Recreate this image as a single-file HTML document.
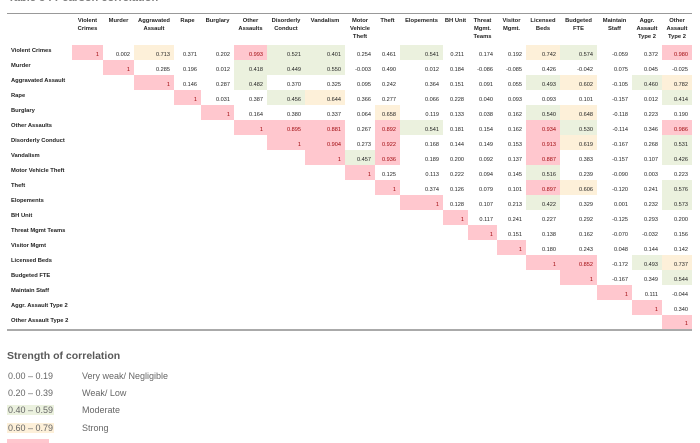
<!DOCTYPE html>
<html><head><meta charset="utf-8"><style>
body{margin:0;width:700px;height:441px;overflow:hidden;background:#fff;font-family:"Liberation Sans",sans-serif;position:relative}
.title{position:absolute;left:8px;top:-8px;font-size:11px;color:#7f7f7f;font-weight:bold}
table{position:absolute;left:7px;top:13px;border-collapse:collapse;table-layout:fixed;border-top:1.5px solid #999;border-bottom:2px solid #aaa}
td{box-sizing:border-box;padding:0;height:15px;line-height:6px;font-size:5.6px;color:#222;text-align:right;vertical-align:bottom;padding-right:4px;padding-bottom:2px;white-space:nowrap;overflow:hidden}
tr.h td{height:31px;vertical-align:top;text-align:center;font-weight:bold;padding:3px 0 0 0;line-height:8px;white-space:normal;font-size:5.8px}
td.l{text-align:left;vertical-align:top;font-weight:bold;padding:3px 0 0 4px;font-size:5.8px}
.p{background:#ffc7ce;color:#9c0006}.g{background:#ebf1de}.o{background:#fdf0d9}
.leg{position:absolute;left:7px;width:300px;font-size:9px;color:#666;white-space:nowrap;line-height:11px}
.leg span{padding:0 1px}
.leg i{position:absolute;left:75px;font-style:normal}
</style></head><body>
<div class="title">Table 3 : Pearson correlation</div>
<table>
<colgroup><col style="width:65px"><col style="width:31px"><col style="width:31px"><col style="width:40px"><col style="width:27px"><col style="width:33px"><col style="width:33px"><col style="width:38px"><col style="width:40px"><col style="width:30px"><col style="width:25px"><col style="width:43px"><col style="width:25px"><col style="width:29px"><col style="width:29px"><col style="width:34px"><col style="width:37px"><col style="width:35px"><col style="width:30px"><col style="width:30px"></colgroup>
<tr class="h"><td></td><td>Violent Crimes</td><td>Murder</td><td>Aggravated Assault</td><td>Rape</td><td>Burglary</td><td>Other Assaults</td><td>Disorderly Conduct</td><td>Vandalism</td><td>Motor Vehicle Theft</td><td>Theft</td><td>Elopements</td><td>BH Unit</td><td>Threat Mgmt. Teams</td><td>Visitor Mgmt.</td><td>Licensed Beds</td><td>Budgeted FTE</td><td>Maintain Staff</td><td>Aggr. Assault Type 2</td><td>Other Assault Type 2</td></tr>
<tr><td class="l">Violent Crimes</td><td class="p">1</td><td>0.002</td><td class="o">0.713</td><td>0.371</td><td>0.202</td><td class="p">0.993</td><td class="g">0.521</td><td class="g">0.401</td><td>0.254</td><td>0.461</td><td class="g">0.541</td><td>0.211</td><td>0.174</td><td>0.192</td><td class="o">0.742</td><td class="g">0.574</td><td>-0.059</td><td>0.372</td><td class="p">0.980</td></tr>
<tr><td class="l">Murder</td><td></td><td class="p">1</td><td>0.285</td><td>0.196</td><td>0.012</td><td class="g">0.418</td><td class="g">0.449</td><td class="g">0.550</td><td>-0.003</td><td>0.490</td><td>0.012</td><td>0.184</td><td>-0.086</td><td>-0.085</td><td>0.426</td><td>-0.042</td><td>0.075</td><td>0.045</td><td>-0.025</td></tr>
<tr><td class="l">Aggravated Assault</td><td></td><td></td><td class="p">1</td><td>0.146</td><td>0.287</td><td class="g">0.482</td><td>0.370</td><td>0.325</td><td>0.095</td><td>0.242</td><td>0.364</td><td>0.151</td><td>0.091</td><td>0.055</td><td class="g">0.493</td><td class="o">0.602</td><td>-0.105</td><td class="g">0.460</td><td class="o">0.782</td></tr>
<tr><td class="l">Rape</td><td></td><td></td><td></td><td class="p">1</td><td>0.031</td><td>0.387</td><td class="g">0.456</td><td class="o">0.644</td><td>0.366</td><td>0.277</td><td>0.066</td><td>0.228</td><td>0.040</td><td>0.093</td><td>0.093</td><td>0.101</td><td>-0.157</td><td>0.012</td><td class="g">0.414</td></tr>
<tr><td class="l">Burglary</td><td></td><td></td><td></td><td></td><td class="p">1</td><td>0.164</td><td>0.380</td><td>0.337</td><td>0.064</td><td class="o">0.658</td><td>0.119</td><td>0.133</td><td>0.038</td><td>0.162</td><td class="g">0.540</td><td class="o">0.648</td><td>-0.118</td><td>0.223</td><td>0.190</td></tr>
<tr><td class="l">Other Assaults</td><td></td><td></td><td></td><td></td><td></td><td class="p">1</td><td class="p">0.895</td><td class="p">0.881</td><td>0.267</td><td class="p">0.892</td><td class="g">0.541</td><td>0.181</td><td>0.154</td><td>0.162</td><td class="p">0.934</td><td class="g">0.530</td><td>-0.114</td><td>0.346</td><td class="p">0.986</td></tr>
<tr><td class="l">Disorderly Conduct</td><td></td><td></td><td></td><td></td><td></td><td></td><td class="p">1</td><td class="p">0.904</td><td>0.273</td><td class="p">0.922</td><td>0.168</td><td>0.144</td><td>0.149</td><td>0.153</td><td class="p">0.913</td><td class="o">0.619</td><td>-0.167</td><td>0.268</td><td class="g">0.531</td></tr>
<tr><td class="l">Vandalism</td><td></td><td></td><td></td><td></td><td></td><td></td><td></td><td class="p">1</td><td class="g">0.457</td><td class="p">0.936</td><td>0.189</td><td>0.200</td><td>0.092</td><td>0.137</td><td class="p">0.887</td><td>0.383</td><td>-0.157</td><td>0.107</td><td class="g">0.426</td></tr>
<tr><td class="l">Motor Vehicle Theft</td><td></td><td></td><td></td><td></td><td></td><td></td><td></td><td></td><td class="p">1</td><td>0.125</td><td>0.113</td><td>0.222</td><td>0.094</td><td>0.145</td><td class="g">0.516</td><td>0.239</td><td>-0.090</td><td>0.003</td><td>0.223</td></tr>
<tr><td class="l">Theft</td><td></td><td></td><td></td><td></td><td></td><td></td><td></td><td></td><td></td><td class="p">1</td><td>0.374</td><td>0.126</td><td>0.079</td><td>0.101</td><td class="p">0.897</td><td class="o">0.606</td><td>-0.120</td><td>0.241</td><td class="g">0.576</td></tr>
<tr><td class="l">Elopements</td><td></td><td></td><td></td><td></td><td></td><td></td><td></td><td></td><td></td><td></td><td class="p">1</td><td>0.128</td><td>0.107</td><td>0.213</td><td class="g">0.422</td><td>0.329</td><td>0.001</td><td>0.232</td><td class="g">0.573</td></tr>
<tr><td class="l">BH Unit</td><td></td><td></td><td></td><td></td><td></td><td></td><td></td><td></td><td></td><td></td><td></td><td class="p">1</td><td>0.117</td><td>0.241</td><td>0.227</td><td>0.292</td><td>-0.125</td><td>0.293</td><td>0.200</td></tr>
<tr><td class="l">Threat Mgmt Teams</td><td></td><td></td><td></td><td></td><td></td><td></td><td></td><td></td><td></td><td></td><td></td><td></td><td class="p">1</td><td>0.151</td><td>0.138</td><td>0.162</td><td>-0.070</td><td>-0.032</td><td>0.156</td></tr>
<tr><td class="l">Visitor Mgmt</td><td></td><td></td><td></td><td></td><td></td><td></td><td></td><td></td><td></td><td></td><td></td><td></td><td></td><td class="p">1</td><td>0.180</td><td>0.243</td><td>0.048</td><td>0.144</td><td>0.142</td></tr>
<tr><td class="l">Licensed Beds</td><td></td><td></td><td></td><td></td><td></td><td></td><td></td><td></td><td></td><td></td><td></td><td></td><td></td><td></td><td class="p">1</td><td class="p">0.852</td><td>-0.172</td><td class="g">0.493</td><td class="o">0.737</td></tr>
<tr><td class="l">Budgeted FTE</td><td></td><td></td><td></td><td></td><td></td><td></td><td></td><td></td><td></td><td></td><td></td><td></td><td></td><td></td><td></td><td class="p">1</td><td>-0.167</td><td>0.349</td><td class="g">0.544</td></tr>
<tr><td class="l">Maintain Staff</td><td></td><td></td><td></td><td></td><td></td><td></td><td></td><td></td><td></td><td></td><td></td><td></td><td></td><td></td><td></td><td></td><td class="p">1</td><td>0.111</td><td>-0.044</td></tr>
<tr><td class="l">Aggr. Assault Type 2</td><td></td><td></td><td></td><td></td><td></td><td></td><td></td><td></td><td></td><td></td><td></td><td></td><td></td><td></td><td></td><td></td><td></td><td class="p">1</td><td>0.340</td></tr>
<tr><td class="l">Other Assault Type 2</td><td></td><td></td><td></td><td></td><td></td><td></td><td></td><td></td><td></td><td></td><td></td><td></td><td></td><td></td><td></td><td></td><td></td><td></td><td class="p">1</td></tr>
</table>
<div class="leg" style="top:351px;font-size:10.5px;font-weight:bold;color:#595959">Strength of correlation</div>
<div class="leg" style="top:371px"><span>0.00 – 0.19</span><i>Very weak/ Negligible</i></div>
<div class="leg" style="top:388px"><span>0.20 – 0.39</span><i>Weak/ Low</i></div>
<div class="leg" style="top:405px"><span style="background:#ebf1de">0.40 – 0.59</span><i>Moderate</i></div>
<div class="leg" style="top:423px"><span style="background:#fdf0d9">0.60 – 0.79</span><i>Strong</i></div>
<div style="position:absolute;left:7px;top:439px;width:42px;height:4px;background:#ffc7ce"></div>
</body></html>
